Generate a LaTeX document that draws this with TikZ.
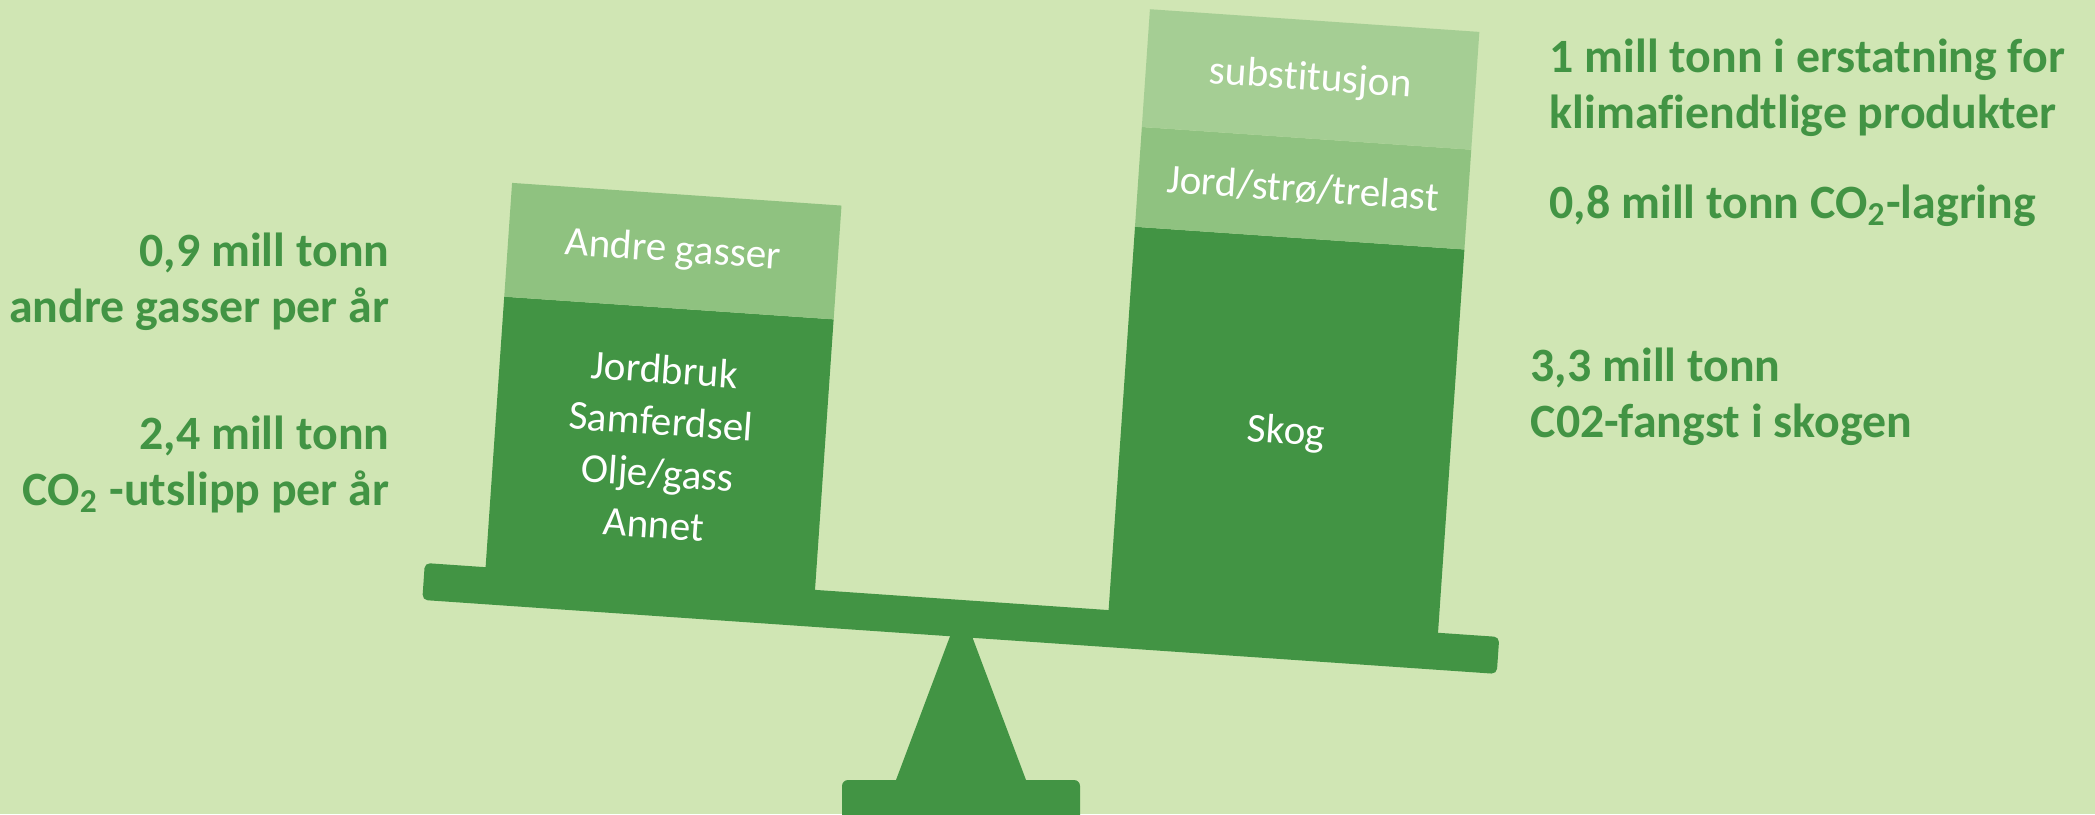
\documentclass[tikz,border=0pt]{standalone}
\usepackage{fontspec}
\setmainfont{Carlito}[Ligatures = NoCommon]
\usetikzlibrary{positioning}
\definecolor{bggreen}{RGB}{208,230,180}
\definecolor{darkgreen}{RGB}{66,148,68}
\definecolor{midgreen}{RGB}{143,194,128}
\definecolor{lightgreen}{RGB}{165,206,148}

\begin{document}
\begin{tikzpicture}[x = 0.01cm, y = 0.01cm,
    layer/.style = {minimum width = 3.3cm, text = white, align = center, inner sep = 0pt, outer sep = 0pt, font = \fontsize{11.7}{14.7}\selectfont},
    amount/.style = {text = darkgreen, inner sep = 0pt, font = \bfseries\fontsize{13.6}{15.9}\selectfont},
    node distance = 0pt]
    \useasboundingbox (0,0) rectangle (2095,814);
    \fill[bggreen] (0,0) rectangle (2095,814);
    \clip (0,0) rectangle (2095,814);
    % Stand
    \fill[darkgreen] (961,207) -- (896,34) -- (1026,34) -- cycle;
    \fill[darkgreen, rounded corners = 1.7pt] (842,-20) rectangle (1080,34);
    % Beam and loads
    \begin{scope}[shift = {(961,177)}, rotate = -3.94, transform shape]
        \fill[darkgreen, rounded corners = 1.5pt] (-540,0) rectangle (537,37);
        \node[layer, fill = darkgreen, minimum height = 2.78cm, anchor = south] (utslipp) at (-314,30) {Jordbruk\\Samferdsel\\Olje/gass\\Annet};
        \node[layer, fill = midgreen, minimum height = 1.14cm, above = of utslipp] (gasser) {Andre gasser};
        \node[layer, fill = darkgreen, minimum height = 3.91cm, anchor = south] (skog) at (310.5,30) {Skog};
        \node[layer, fill = midgreen, minimum height = 1cm, above = of skog] (lagring) {Jord/strø/trelast};
        \node[layer, fill = lightgreen, minimum height = 1.18cm, above = of lagring] (subst) {substitusjon};
    \end{scope}
    % Left side
    \node[amount, align = right, anchor = base east] (gasslabel) at (390,492) {0,9 mill tonn\\andre gasser per år};
    \node[amount, align = right, anchor = base east] (co2label) at (390,309) {2,4 mill tonn\\CO\textsubscript{2} -utslipp per år};
    % Right side
    \node[amount, align = left, anchor = base west] (substlabel) at (1549,686) {1 mill tonn i erstatning for\\klimafiendtlige produkter};
    \node[amount, align = left, anchor = base west] (lagringlabel) at (1549,596) {0,8 mill tonn CO\textsubscript{2}-lagring};
    \node[amount, align = left, anchor = base west] (skoglabel) at (1530,377) {3,3 mill tonn\\C02-fangst i skogen};
\end{tikzpicture}
\end{document}
